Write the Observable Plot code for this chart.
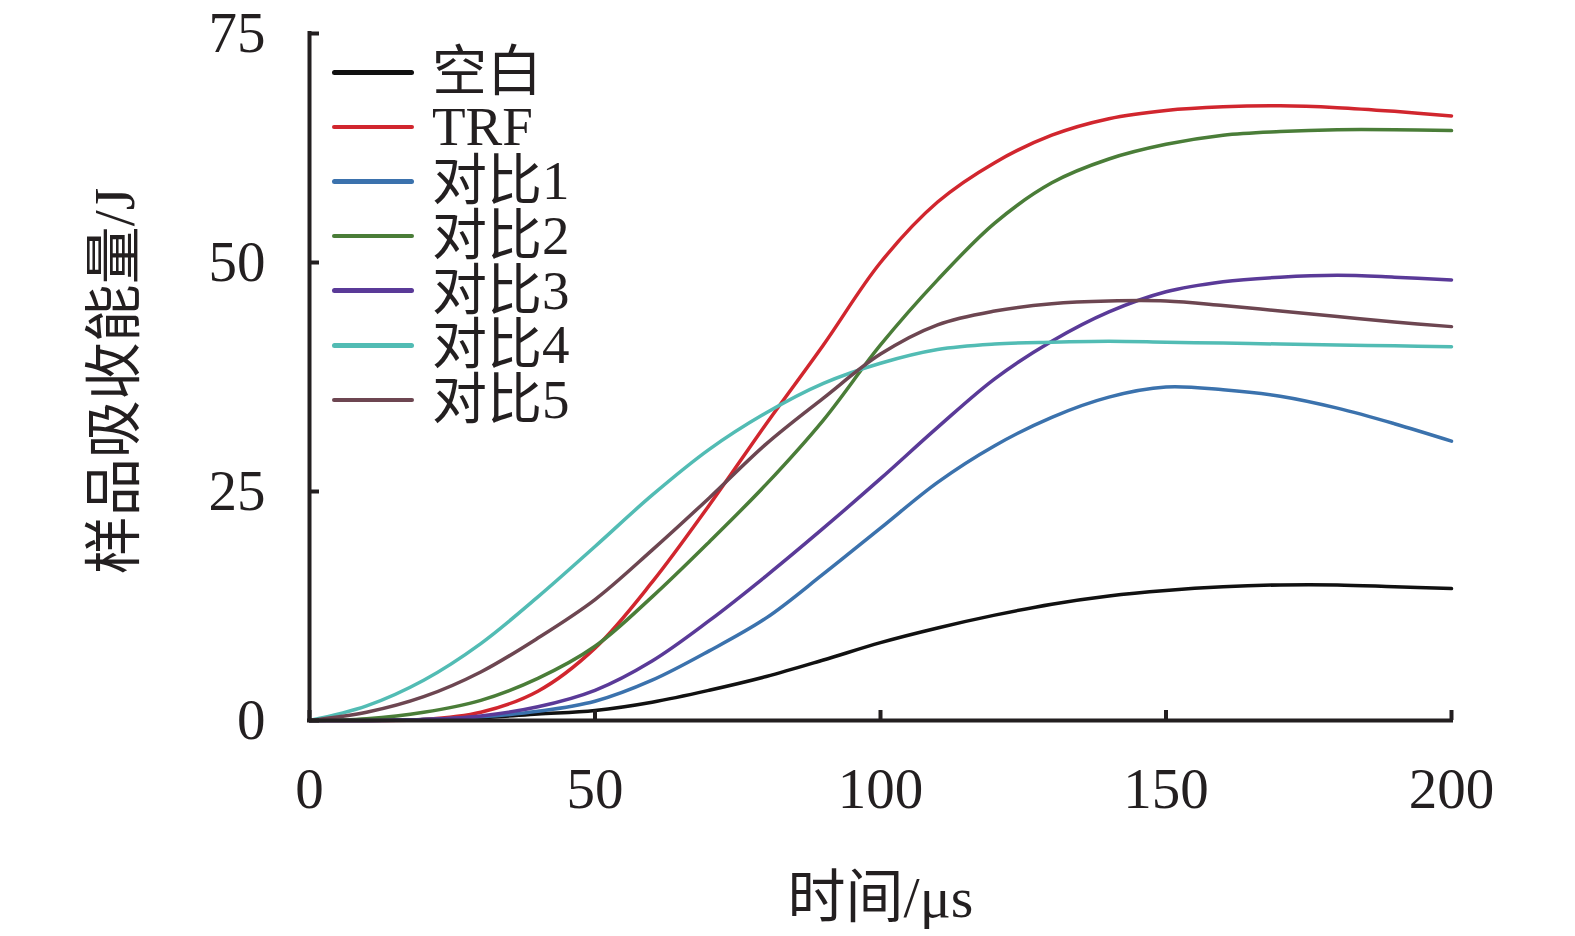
<!DOCTYPE html>
<html>
<head>
<meta charset="utf-8">
<script src="https://cdn.jsdelivr.net/npm/d3@7"></script>
<script src="https://cdn.jsdelivr.net/npm/@observablehq/plot@0.6"></script>
<style>
  html, body { margin: 0; padding: 0; background: #fff; overflow: hidden; }
  #wrap { position: relative; width: 1575px; height: 936px; overflow: hidden; }
  #wrap svg { display: block; }
  #legend { position: absolute; left: 332px; top: 45px; font-family: "Liberation Serif", "Noto Sans CJK SC", serif; font-size: 55px; color: #231f20; }
  .row { display: flex; align-items: center; height: 54.6px; }
  .sw { width: 82px; height: 4.5px; border-radius: 3px; margin-right: 18px; }
  .lab { line-height: 54px; white-space: nowrap; }
</style>
</head>
<body>
<div id="wrap"><div id="legend"></div></div>
<script>
const times = [0,10,20,30,40,50,60,70,80,90,100,110,120,130,140,150,160,170,180,190,200];
const seriesNames = ["空白","TRF","对比1","对比2","对比3","对比4","对比5"];
const seriesColors = ["#111111","#d1262e","#3b72ad","#4a7d38","#5a3a98","#52bcb4","#6d4651"];
const blank = [0,0,0.1,0.3,0.7,1.1,2.0,3.3,4.8,6.6,8.5,10.1,11.5,12.7,13.6,14.2,14.6,14.8,14.8,14.6,14.4];
const trf   = [0,0,0.1,0.9,3.2,7.9,15.1,23.5,32.4,41.0,50.0,56.6,60.9,63.9,65.7,66.6,67.0,67.1,66.9,66.5,66.0];
const c1    = [0,0,0.1,0.4,1.0,2.1,4.4,7.6,11.2,16.0,21.0,26.0,30.0,33.1,35.3,36.4,36.1,35.4,34.1,32.4,30.5];
const c2    = [0,0.2,0.9,2.2,4.6,8.1,13.5,19.5,25.8,32.8,41.0,48.1,54.3,58.7,61.3,62.9,63.9,64.3,64.5,64.5,64.4];
const c3    = [0,0,0.1,0.5,1.5,3.3,6.5,10.9,15.8,21.0,26.4,32.0,37.3,41.4,44.6,46.8,47.9,48.4,48.6,48.4,48.1];
const c4    = [0,1.6,4.4,8.4,13.5,19.0,24.6,29.6,33.6,36.8,39.0,40.5,41.1,41.3,41.4,41.3,41.2,41.1,41.0,40.9,40.8];
const c5    = [0,0.9,2.6,5.3,9.0,13.2,18.6,24.3,30.2,35.2,40.0,43.2,44.7,45.5,45.8,45.8,45.3,44.7,44.1,43.5,43.0];
const xTicks = [0,50,100,150,200];
const yTicks = [0,25,50,75];
const xTitle = "时间/μs";
const yTitle = "样品吸收能量/J";

const allValues = [blank, trf, c1, c2, c3, c4, c5];
const data = [];
seriesNames.forEach((name, i) => {
  times.forEach((t, j) => data.push({series: name, t, v: allValues[i][j]}));
});

const axisColor = "#231f20";
const serif = "'Liberation Serif', 'Noto Sans CJK SC', serif";

const chart = Plot.plot({
  width: 1575,
  height: 936,
  marginLeft: 309,
  marginRight: 124,
  marginTop: 33,
  marginBottom: 216,
  style: {fontFamily: serif, color: axisColor, background: "transparent"},
  x: {domain: [0, 200]},
  y: {domain: [0, 75]},
  color: {domain: seriesNames, range: seriesColors},
  marks: [
    Plot.line(data, {x: "t", y: "v", z: "series", stroke: "series", curve: "catmull-rom", strokeWidth: 3.5}),
    Plot.axisX({ticks: xTicks, tickSize: -10, strokeWidth: 4, stroke: axisColor, tickFormat: () => "", label: null}),
    Plot.axisX({ticks: xTicks, tickSize: 0, tickPadding: 47, fontSize: 57, fill: axisColor, label: null}),
    Plot.axisY({ticks: yTicks, tickSize: -10, strokeWidth: 4, stroke: axisColor, tickFormat: () => "", label: null}),
    Plot.axisY({ticks: yTicks, tickSize: 0, tickPadding: 44, fontSize: 57, fill: axisColor, label: null}),
    Plot.ruleY([0], {stroke: axisColor, strokeWidth: 4, strokeLinecap: "square"}),
    Plot.ruleX([0], {stroke: axisColor, strokeWidth: 4, strokeLinecap: "square"}),
    Plot.text([xTitle], {frameAnchor: "bottom", dy: 196, fontSize: 58, fill: axisColor, textAnchor: "middle"}),
    Plot.text([yTitle], {frameAnchor: "left", dx: -194, dy: 4, rotate: -90, fontSize: 58, fill: axisColor, textAnchor: "middle"})
  ]
});
document.getElementById("wrap").prepend(chart);

const legend = document.getElementById("legend");
seriesNames.forEach((name, i) => {
  const row = document.createElement("div");
  row.className = "row";
  const sw = document.createElement("div");
  sw.className = "sw";
  sw.style.background = seriesColors[i];
  const lab = document.createElement("span");
  lab.className = "lab";
  lab.textContent = name;
  row.append(sw, lab);
  legend.append(row);
});
</script>
</body>
</html>
